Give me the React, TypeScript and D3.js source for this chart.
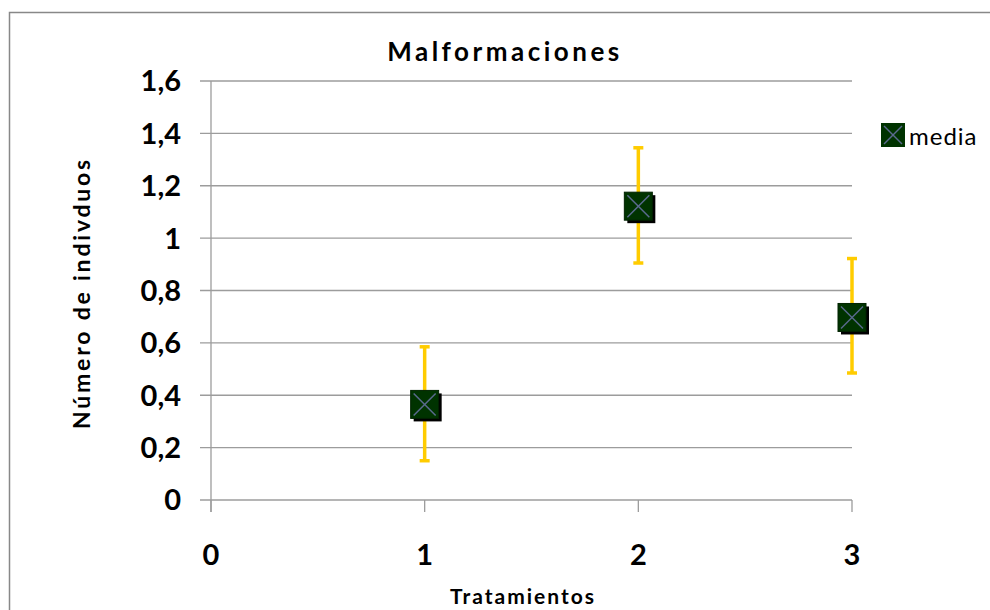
import React from "react";
import * as d3 from "d3";

const treatments = [1, 2, 3];
const means = [0.365, 1.122, 0.697];
const lowers = [0.15, 0.905, 0.485];
const uppers = [0.585, 1.345, 0.922];
const xTicks = [0, 1, 2, 3];
const yTicks = [0, 0.2, 0.4, 0.6, 0.8, 1, 1.2, 1.4, 1.6];
const title = "Malformaciones";
const xTitle = "Tratamientos";
const yTitle = "Número de indivduos";
const legendLabel = "media";

const W = 990;
const H = 610;
const m = { left: 211, right: 852, top: 81, bottom: 500 };
const FONT = "Lato, 'Open Sans', sans-serif";

const fmt = (v: number) => (v === 0 || v === 1 ? String(v) : d3.format(".1f")(v).replace(".", ","));

function Marker({ cx, cy, s }: { cx: number; cy: number; s: number }) {
  const h = s / 2;
  return (
    <g>
      <rect x={cx - h + 3} y={cy - h + 3} width={s} height={s} fill="#000" />
      <rect x={cx - h} y={cy - h} width={s} height={s} fill="#003300" stroke="#002200" strokeWidth={1} />
      <line x1={cx - h + 3} y1={cy - h + 3} x2={cx + h - 3} y2={cy + h - 3} stroke="#5a6a8e" strokeWidth={1.5} />
      <line x1={cx + h - 3} y1={cy - h + 3} x2={cx - h + 3} y2={cy + h - 3} stroke="#5a6a8e" strokeWidth={1.5} />
    </g>
  );
}

export default function App() {
  const x = d3.scaleLinear().domain([0, 3]).range([m.left, m.right]);
  const y = d3.scaleLinear().domain([0, 1.6]).range([m.bottom, m.top]);

  return (
    <svg
      width={W}
      height={H}
      style={{ position: "absolute", left: 0, top: 0, background: "#fff" }}
      fontFamily={FONT}
    >
      <rect x={9.5} y={12.5} width={1000} height={700} fill="#fff" stroke="#888" strokeWidth={1.5} />
      {yTicks.map((t) => (
        <g key={t}>
          <line x1={m.left - 11} x2={m.right} y1={y(t)} y2={y(t)} stroke="#9c9c9c" strokeWidth={1.3} />
          <text x={181} y={y(t)} dy="0.36em" textAnchor="end" fontSize={29} fontWeight="bold" fill="#000">
            {fmt(t)}
          </text>
        </g>
      ))}
      <line x1={m.left} x2={m.left} y1={m.top} y2={m.bottom + 12} stroke="#9c9c9c" strokeWidth={1.3} />
      {xTicks.map((t) => (
        <g key={t}>
          <line x1={x(t)} x2={x(t)} y1={m.bottom} y2={m.bottom + 12} stroke="#9c9c9c" strokeWidth={1.3} />
          <text x={x(t)} y={565} textAnchor="middle" fontSize={29} fontWeight="bold" fill="#000">
            {t}
          </text>
        </g>
      ))}
      {treatments.map((t, i) => (
        <g key={"e" + t} stroke="#ffcc00" strokeWidth={3.5}>
          <line x1={x(t)} x2={x(t)} y1={y(lowers[i])} y2={y(uppers[i])} />
          <line x1={x(t) - 5} x2={x(t) + 5} y1={y(lowers[i])} y2={y(lowers[i])} />
          <line x1={x(t) - 5} x2={x(t) + 5} y1={y(uppers[i])} y2={y(uppers[i])} />
        </g>
      ))}
      {treatments.map((t, i) => (
        <Marker key={"m" + t} cx={x(t)} cy={y(means[i])} s={28} />
      ))}
      <text x={505} y={61} textAnchor="middle" fontSize={26} fontWeight="bold" letterSpacing={3.5}>
        {title}
      </text>
      <text x={523} y={604} textAnchor="middle" fontSize={21} fontWeight="bold" letterSpacing={2}>
        {xTitle}
      </text>
      <text
        transform={`translate(90, 293) rotate(-90)`}
        textAnchor="middle"
        fontSize={23}
        fontWeight="bold"
        letterSpacing={2.8}
      >
        {yTitle}
      </text>
      <g>
        <rect x={881} y={123} width={24} height={24} fill="#003300" />
        <line x1={884} y1={126} x2={902} y2={144} stroke="#5a6a8e" strokeWidth={1.5} />
        <line x1={902} y1={126} x2={884} y2={144} stroke="#5a6a8e" strokeWidth={1.5} />
        <text x={909} y={145} fontSize={24} letterSpacing={1} fill="#000">
          {legendLabel}
        </text>
      </g>
    </svg>
  );
}
